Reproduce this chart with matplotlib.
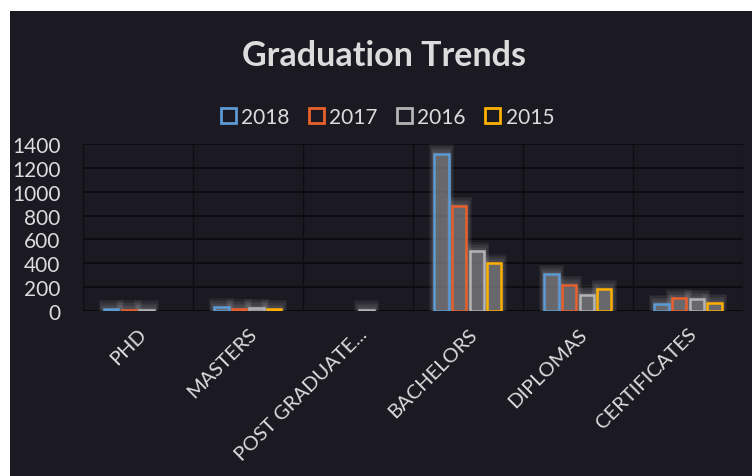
import numpy as np
import matplotlib
matplotlib.use('Agg')
import matplotlib.pyplot as plt
from matplotlib.patches import Patch, Rectangle

# data
categories = ['PHD', 'MASTERS', 'POST GRADUATE...', 'BACHELORS', 'DIPLOMAS', 'CERTIFICATES']
years = ['2018', '2017', '2016', '2015']
v2018 = [15, 30, 0, 1320, 310, 60]
v2017 = [12, 20, 0, 880, 218, 106]
v2016 = [10, 25, 10, 500, 137, 100]
v2015 = [0, 15, 0, 400, 184, 67]
series = [v2018, v2017, v2016, v2015]
colors = ['#5b9bd5', '#e8602c', '#b4b4b4', '#ffb000']

bg = '#1b1922'
txt = '#dcdcdc'
plt.rcParams['font.family'] = ['Lato', 'DejaVu Sans']

fig = plt.figure(figsize=(7.52, 4.77), dpi=100, facecolor='white')
# dark chart area, with the white strip at left/top of the scan
fig.patches.append(Rectangle((10/752, 0), 1, 1 - 12/477, transform=fig.transFigure,
                             facecolor=bg, edgecolor='none', zorder=-10))

ax = fig.add_axes([0.110, 0.346, 0.878, 0.350])
ax.set_facecolor('none')

x = np.arange(len(categories))
w = 0.13
step = 0.16
for i, (vals, c) in enumerate(zip(series, colors)):
    vals = np.array(vals, dtype=float)
    xpos = x + (i - 1.5) * step
    has = vals > 0
    # soft glow around the bars
    for k in range(1, 7):
        ax.bar(xpos[has], vals[has] + k * 13, width=w + k * 0.017, bottom=0,
               color='#a8a8a8', alpha=0.08, linewidth=0, zorder=2)
    ax.bar(xpos[has], vals[has], width=w, facecolor=(0.5, 0.5, 0.52, 0.5),
           edgecolor=c, linewidth=1.8, zorder=3)

ax.set_xlim(-0.5, len(categories) - 0.5)
ax.set_ylim(0, 1400)
ax.set_yticks(range(0, 1401, 200))
ax.set_xticks(x)
ax.set_xticklabels(categories, rotation=45, ha='right', va='top',
                   rotation_mode='anchor', fontsize=14.5, color=txt)
ax.tick_params(axis='x', length=0, pad=10)
ax.tick_params(axis='y', length=0, pad=16, labelsize=15, labelcolor=txt)

ax.set_xticks(np.arange(-0.5, len(categories), 1), minor=True)
ax.tick_params(axis='x', which='minor', length=0)
ax.grid(axis='y', color='#0b0b0e', linewidth=1.2, zorder=1)
ax.grid(axis='x', which='minor', color='#0e0e12', linewidth=1, zorder=1)
ax.set_axisbelow(True)
for s in ax.spines.values():
    s.set_visible(False)
ax.axhline(0, color='#08080a', linewidth=1.2, zorder=1)

fig.text(0.510, 0.883, 'Graduation Trends', ha='center', va='center',
         fontsize=24.5, fontweight='bold', color=txt)

handles = [Patch(facecolor='none', edgecolor=c, linewidth=2, label=y)
           for y, c in zip(years, colors)]
leg = fig.legend(handles=handles, loc='center', bbox_to_anchor=(0.515, 0.753), ncol=4,
                 frameon=False, fontsize=15, handlelength=0.75, handleheight=0.75,
                 handletextpad=0.25, columnspacing=0.9)
for t in leg.get_texts():
    t.set_color(txt)

fig.savefig('out.png', dpi=100, facecolor=fig.get_facecolor())
